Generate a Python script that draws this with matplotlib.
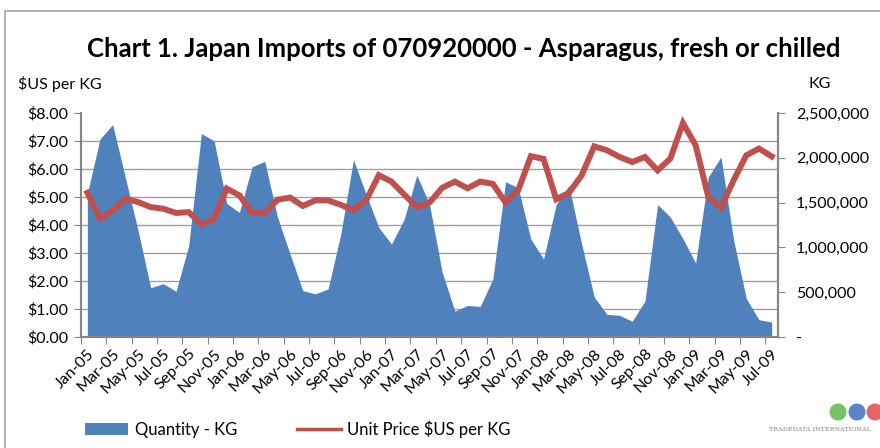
import matplotlib
matplotlib.use("Agg")
import matplotlib.pyplot as plt
from matplotlib.patches import Patch, Rectangle, Ellipse
from matplotlib.lines import Line2D
from matplotlib.ticker import FuncFormatter
import numpy as np
import pandas as pd

# Monthly categories, Jan-05 .. Jul-09
months = pd.date_range("2005-01-01", periods=55, freq="MS").strftime("%b-%y").tolist()

# Quantity imported (KG)
quantity_kg = [
    1600000, 2210000, 2370000, 1780000, 1190000, 550000, 595000, 510000, 1020000, 2270000,
    2190000, 1490000, 1390000, 1900000, 1960000, 1340000, 925000, 518000, 481000, 537000,
    1148000, 1980000, 1592000, 1222000, 1037000, 1314000, 1807000, 1481000, 722000, 289000,
    352000, 341000, 648000, 1732000, 1666000, 1092000, 870000, 1481000, 1690000, 1040000,
    446000, 253000, 242000, 175000, 402000, 1477000, 1339000, 1097000, 826000, 1786000,
    2009000, 1079000, 428000, 193000, 167000,
]

# Unit price ($US per KG)
unit_price = [
    5.15, 4.23, 4.52, 4.94, 4.82, 4.64, 4.58, 4.43, 4.46, 4.02,
    4.23, 5.30, 5.06, 4.43, 4.43, 4.90, 4.98, 4.68, 4.88, 4.88,
    4.72, 4.53, 4.88, 5.78, 5.55, 5.09, 4.64, 4.80, 5.33, 5.55,
    5.31, 5.55, 5.47, 4.80, 5.24, 6.46, 6.36, 4.92, 5.15, 5.77,
    6.81, 6.67, 6.43, 6.25, 6.43, 5.95, 6.37, 7.64, 6.85, 5.00,
    4.62, 5.60, 6.49, 6.73, 6.45,
]

price_ticks = np.arange(0, 9, 1)
qty_ticks = np.arange(0, 2500001, 500000)

title = "Chart 1. Japan Imports of 070920000 - Asparagus, fresh or chilled"

blue = "#4F81BD"
red = "#C0504D"
grey = "#868686"
font = "Lato"

plt.rcParams["font.family"] = [font, "DejaVu Sans"]

W, H = 880, 448
fig = plt.figure(figsize=(W / 100, H / 100), dpi=100)

# plot area in pixels: left 81, right 778, top 113, bottom 337
ax = fig.add_axes([81 / W, 1 - 337 / H, (778 - 81) / W, (337 - 113) / H])
x = np.arange(len(months))

# quantity area on the bottom axes (right scale)
ax.fill_between(x, quantity_kg, 0, color=blue, linewidth=0, zorder=2)
ax.set_ylim(0, 2500000)
ax.set_xlim(-0.5, len(months) - 0.5)

# price line on a twin axes (left scale)
ax2 = ax.twinx()
ax2.plot(x, unit_price, color=red, linewidth=4.3, solid_joinstyle="miter", zorder=3)
ax2.set_ylim(0, 8)
ax2.yaxis.tick_left()
ax2.set_yticks(price_ticks)
ax2.yaxis.set_major_formatter(FuncFormatter(lambda v, p: f"${v:.2f}"))
ax2.tick_params(axis="y", direction="out", length=5, color=grey, labelsize=11.5, pad=4)

# right scale belongs to the area axes
ax.yaxis.tick_right()
ax.set_yticks(qty_ticks)
ax.yaxis.set_major_formatter(
    FuncFormatter(lambda v, p: "-" if v == 0 else f"{int(v):,}")
)
# gridlines in price steps, drawn behind the area
ax.set_yticks(price_ticks * 2500000 / 8, minor=True)
ax.grid(which="minor", axis="y", color="#A0A0A0", linewidth=1.0)
ax.set_axisbelow(True)
ax.tick_params(axis="y", which="minor", length=0, labelright=False)
ax.tick_params(axis="y", which="major", direction="out", length=5, color=grey,
               labelsize=11.5, pad=8)

# x axis: tick marks between every second month, labels on every second month
ax.set_xticks(np.arange(-0.5, len(months) - 1, 2))
ax.set_xticklabels([])
ax.set_xticks(x[::2], minor=True)
ax.set_xticklabels(months[::2], minor=True, rotation=45, ha="right",
                   rotation_mode="anchor")
ax.tick_params(axis="x", which="major", direction="out", length=5, color=grey)
ax.tick_params(axis="x", which="minor", length=0, labelsize=11.5, pad=7)

for a in (ax, ax2):
    a.spines["top"].set_visible(False)
    for s in ("left", "right", "bottom"):
        a.spines[s].set_color(grey)
        a.spines[s].set_linewidth(1.5)

# titles
fig.text(464 / W, 1 - 49 / H, title, ha="center", va="center",
         fontsize=18.5, fontweight="bold")
fig.text(18 / W, 1 - 84 / H, "$US per KG", ha="left", va="center", fontsize=11.5)
fig.text(820 / W, 1 - 84 / H, "KG", ha="center", va="center", fontsize=11.5)

# legend
handles = [
    Patch(facecolor=blue, edgecolor="none", label="Quantity - KG"),
    Line2D([0], [0], color=red, linewidth=2.5, label="Unit Price $US per KG"),
]
fig.legend(handles=handles, loc="center", bbox_to_anchor=(298 / W, 1 - 429 / H),
           ncol=2, frameon=False, fontsize=12, handlelength=2.6,
           handleheight=0.8, columnspacing=3.6, handletextpad=0.4)

# outer chart border
fig.patches.append(Rectangle((5 / W, -0.1), 1.2, 1.1 - 11 / H, transform=fig.transFigure,
                             fill=False, edgecolor="#A6A6A6", linewidth=1.2))

# small logo
for cx, col in zip([838, 857, 875], ["#5DBB4B", "#3E6FC0", "#E04A4A"]):
    fig.patches.append(Ellipse((cx / W, 1 - 412 / H), 17 / W, 17 / H,
                               transform=fig.transFigure,
                               facecolor=col, edgecolor="none", alpha=0.85))
fig.text(769 / W, 1 - 429 / H, "TRADEDATA INTERNATIONAL", ha="left", va="center",
         fontsize=4.6, family="DejaVu Serif", color="#808080")

fig.savefig("out.png", dpi=100)
